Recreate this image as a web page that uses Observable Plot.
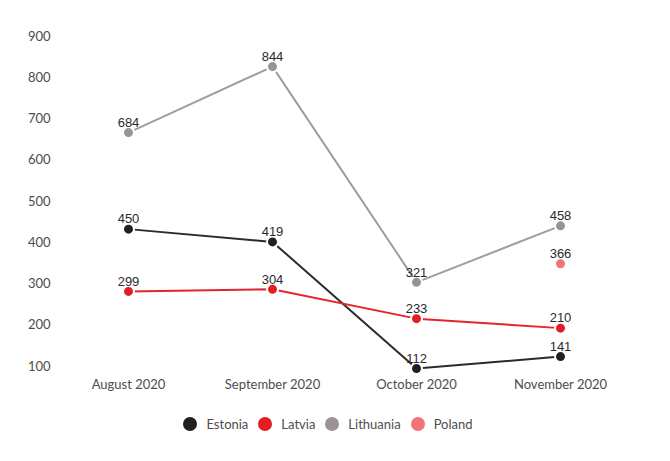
<!DOCTYPE html>
<html>
<head>
<meta charset="utf-8">
<script src="https://cdn.jsdelivr.net/npm/d3@7"></script>
<script src="https://cdn.jsdelivr.net/npm/@observablehq/plot@0.6"></script>
<style>
  html, body { margin: 0; padding: 0; background: #fff; }
  #chart { width: 670px; }
  .legend { display: flex; justify-content: center; align-items: center; gap: 0; margin-top: 16px; margin-left: -14px;
    font-family: Lato, "Open Sans", sans-serif; font-size: 13px; color: #4d4d4d; }
  .legend .item { display: flex; align-items: center; margin: 0 5px; }
  .legend .sw { width: 14px; height: 14px; border-radius: 50%; margin-right: 9px; }
</style>
</head>
<body>
<div id="chart"></div>
<script>
const months = ["August 2020", "September 2020", "October 2020", "November 2020"];
const countries = ["Estonia", "Latvia", "Lithuania", "Poland"];
const estonia = [450, 419, 112, 141];
const latvia = [299, 304, 233, 210];
const lithuania = [684, 844, 321, 458];
const poland = [null, null, null, 366];
const colors = ["#231f20", "#e21d25", "#9a9293", "#f2737a"];
const lineColors = ["#2e2a2b", "#e3262d", "#a39c9d", "#f2737a"];
const yTicks = [100, 200, 300, 400, 500, 600, 700, 800, 900];

const series = [estonia, latvia, lithuania, poland];
const data = [];
countries.forEach((c, ci) => {
  months.forEach((m, mi) => {
    const v = series[ci][mi];
    if (v != null) data.push({country: c, month: m, value: v});
  });
});

const chart = Plot.plot({
  width: 670,
  height: 400,
  marginLeft: 55,
  marginRight: 38,
  marginTop: 43,
  marginBottom: 27,
  style: {fontFamily: "Lato, 'Open Sans', sans-serif", fontSize: "13px", color: "#4d4d4d"},
  x: {type: "point", domain: months, padding: 0.5, label: null},
  y: {domain: [100, 900], label: null},
  color: {domain: countries, range: colors},
  marks: [
    Plot.axisY({ticks: yTicks, tickSize: 0, tickPadding: 5, dy: -7, label: null, fontSize: 13}),
    Plot.axisX({tickSize: 0, tickPadding: 6, label: null, fontSize: 13}),
    Plot.line(data, {x: "month", y: "value", z: "country",
      stroke: d => lineColors[countries.indexOf(d.country)], strokeWidth: 2}),
    Plot.dot(data, {x: "month", y: "value", fill: "country", r: 5.5, stroke: "white", strokeWidth: 2}),
    Plot.text(data, {x: "month", y: "value", text: d => String(d.value), dy: -10,
      fill: "#2a2a2a", fontSize: 13, fontFamily: "'Liberation Sans', Arial, sans-serif"})
  ]
});
document.getElementById("chart").appendChild(chart);

const legend = document.createElement("div");
legend.className = "legend";
countries.forEach((c, i) => {
  const item = document.createElement("div");
  item.className = "item";
  const sw = document.createElement("span");
  sw.className = "sw";
  sw.style.background = colors[i];
  const t = document.createElement("span");
  t.textContent = c;
  item.appendChild(sw);
  item.appendChild(t);
  legend.appendChild(item);
});
document.getElementById("chart").appendChild(legend);
</script>
</body>
</html>
